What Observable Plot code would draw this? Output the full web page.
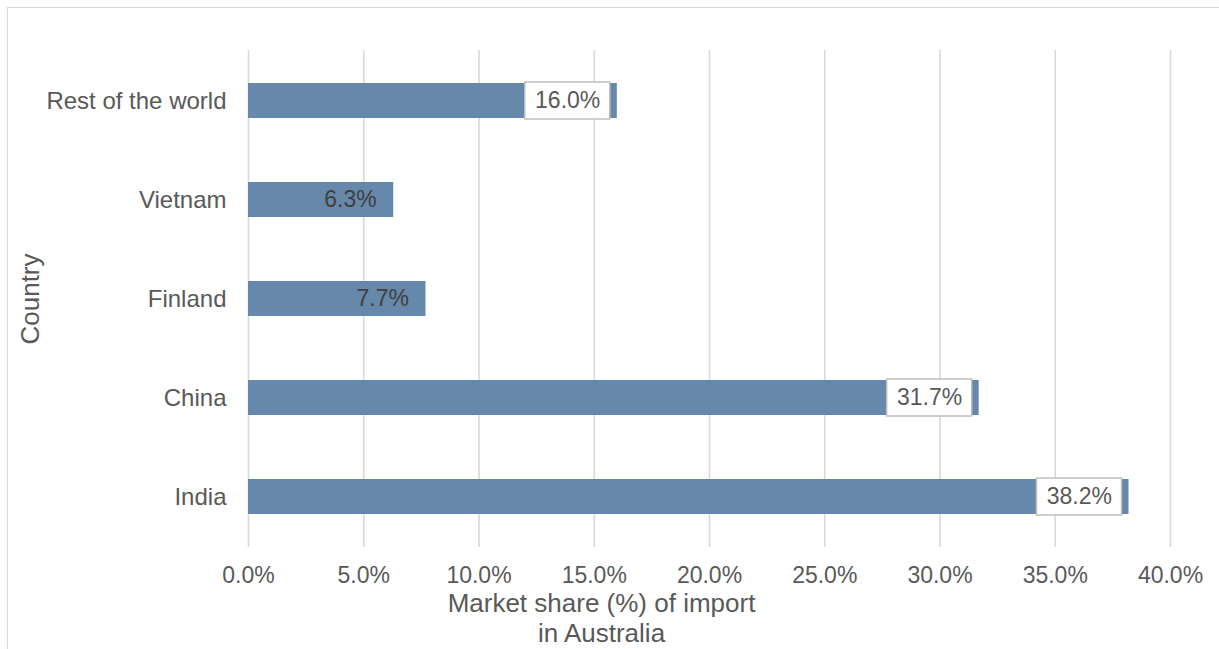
<!DOCTYPE html>
<html><head><meta charset="utf-8">
<script src="https://cdn.jsdelivr.net/npm/d3@7"></script>
<script src="https://cdn.jsdelivr.net/npm/@observablehq/plot@0.6"></script>
<style>
html,body{margin:0;padding:0;background:#fff;}
#wrap{position:relative;width:1219px;height:649px;overflow:hidden;}
#border{position:absolute;left:7px;top:7px;width:1300px;height:700px;border:1.5px solid #d9d9d9;box-sizing:border-box;}
#chart{position:absolute;left:0;top:0;}
</style></head><body>
<div id="wrap"><div id="border"></div><div id="chart"></div></div>
<script>
const countries = ["Rest of the world", "Vietnam", "Finland", "China", "India"];
const shares = [16.0, 6.3, 7.7, 31.7, 38.2];
const xTicks = [0, 5, 10, 15, 20, 25, 30, 35, 40];
const yTitle = "Country";
const xTitle = "Market share (%) of import\nin Australia";

const data = countries.map((c, i) => ({country: c, share: shares[i]}));
const boxed = data.filter(d => d.share >= 10);
const fmt = d => d.toFixed(1) + "%";

const chart = Plot.plot({
  width: 1219, height: 649,
  marginLeft: 248, marginRight: 49, marginTop: 50, marginBottom: 102,
  style: {fontFamily: "'Liberation Sans', Arial, sans-serif", fontSize: "24px", color: "#595959", background: "transparent"},
  x: {domain: [0, 40]},
  y: {domain: countries, paddingInner: 0.65, paddingOuter: 0.325},
  marks: [
    Plot.gridX(xTicks, {stroke: "#d9d9d9", strokeOpacity: 1, strokeWidth: 1.6}),
    Plot.barX(data, {x: "share", y: "country", fill: "#6688ab"}),
    Plot.barX(boxed, {x1: "share", x2: "share", y: "country", insetLeft: -92, insetRight: 7, insetTop: -1, insetBottom: -1, fill: "white", stroke: "#bfbfbf", strokeWidth: 1.5}),
    Plot.text(data, {x: "share", y: "country", text: d => fmt(d.share), textAnchor: "end", dx: -17, fill: d => d.share >= 10 ? "#595959" : "#404040", fontSize: 23}),
    Plot.axisX(xTicks, {tickSize: 0, tickPadding: 19, tickFormat: fmt, label: null, fill: "#595959", fontSize: 23}),
    Plot.axisY({tickSize: 0, tickPadding: 22, label: null, fill: "#595959", fontSize: 24}),
    Plot.text([yTitle], {frameAnchor: "left", textAnchor: "middle", dx: -218, rotate: -90, fill: "#595959", fontSize: 26}),
    Plot.text([xTitle], {frameAnchor: "bottom", textAnchor: "middle", dx: -108, dy: 44, lineAnchor: "top", lineHeight: 1.13, fill: "#595959", fontSize: 26})
  ]
});
document.getElementById("chart").appendChild(chart);
</script>
</body></html>
